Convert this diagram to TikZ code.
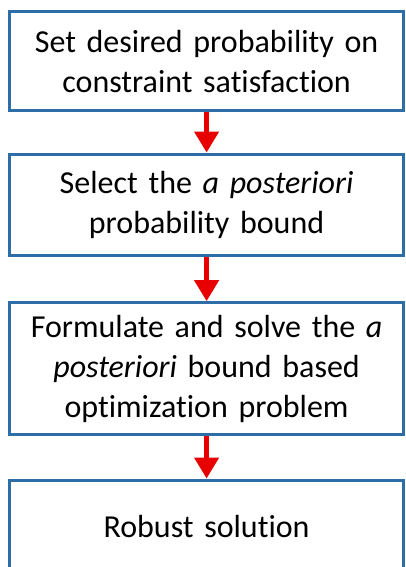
\documentclass[tikz,border=0pt]{standalone}
\usepackage{fontspec}
\setmainfont[Ligatures={NoCommon}]{Carlito}
\usetikzlibrary{arrows.meta}
\definecolor{boxblue}{RGB}{46,110,168}
\definecolor{arrred}{RGB}{232,0,0}
\begin{document}
\begin{tikzpicture}[x=1pt,y=1pt,
  stepbox/.style={draw=boxblue, line width=3pt, fill=white, minimum width=394.2pt,
    text width=388pt, align=center, inner sep=0pt,
    font=\fontsize{32}{40}\selectfont},
  flowarrow/.style={draw=arrred, line width=4.5pt, -{Triangle[width=24pt,length=21pt]}}]
\useasboundingbox (0,0) rectangle (405,-567);
\node[stepbox, minimum height=99.3pt] (b1) at (206.6,-61.3)
  {Set desired probability on\\constraint satisfaction};
\node[stepbox, minimum height=101pt] (b2) at (206.6,-204.5)
  {Select the \textit{a posteriori}\\probability bound};
\node[stepbox, minimum height=132.3pt] (b3) at (206.6,-368.8)
  {Formulate and solve the \textit{a}\\\textit{posteriori} bound based\\optimization problem};
\node[stepbox, minimum height=93pt] (b4) at (206.6,-526.5)
  {Robust solution};
\draw[flowarrow] (b1.south) -- (b2.north);
\draw[flowarrow] (b2.south) -- (b3.north);
\draw[flowarrow] (b3.south) -- (b4.north);
\end{tikzpicture}
\end{document}
